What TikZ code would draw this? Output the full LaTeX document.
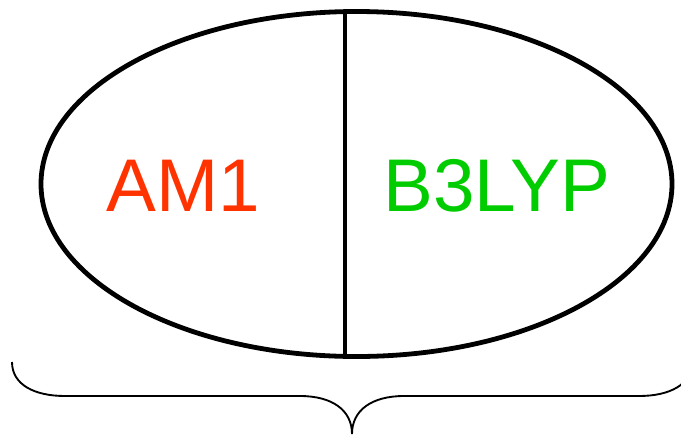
\documentclass[tikz,border=0pt]{standalone}
\usepackage{fontspec}
\setmainfont{Liberation Sans}
\usepackage{tikz}
\usetikzlibrary{positioning,calc}
\definecolor{ink}{RGB}{0,0,0}
\definecolor{semired}{RGB}{255,51,0}
\definecolor{dftgreen}{RGB}{0,204,0}

\begin{document}
\begin{tikzpicture}[
  x=0.75pt,y=-0.75pt,
  every node/.style={font=\fontsize{56}{62}\selectfont,inner sep=0pt},
  oval/.style={draw=ink,line width=3.6pt},
  divider/.style={draw=ink,line width=3pt},
  brace/.style={draw=ink,line width=1.4pt}
]
\useasboundingbox (0,0) rectangle (681,436);
\coordinate (mid) at (356.5,184);
\coordinate (top) at (345,12);
\coordinate (bot) at (345,356);
\draw[oval] (mid) ellipse [x radius=315.5, y radius=172.5];
\draw[divider] (top) -- (bot);
\node[anchor=base,text=semired] (am1) at (183,211) {AM1};
\node[anchor=base,text=dftgreen] (b3lyp) at (497,211) {B3LYP};
% curly brace under the oval
\coordinate (bl) at (12,362);
\coordinate (tip) at (352,434);
\coordinate (br) at (692,362);
\draw[brace] (bl) .. controls (12,385) and (35,396) .. (65,396) -- (300,396)
  .. controls (332,396) and (352,410) .. (tip)
  .. controls (352,410) and (372,396) .. (404,396) -- (639,396)
  .. controls (669,396) and (692,385) .. (br);
\end{tikzpicture}
\end{document}
